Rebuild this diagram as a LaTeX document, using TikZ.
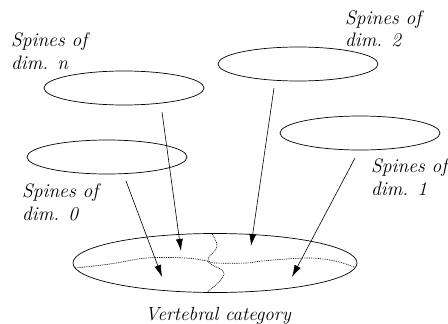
\documentclass[tikz,border=0pt]{standalone}
\usetikzlibrary{arrows.meta,shapes.geometric}
\begin{document}
\begin{tikzpicture}[x=1pt,y=-1pt,
  sp/.style={ellipse,draw,line width=0.7pt,inner sep=0pt,minimum width=160pt,minimum height=34pt},
  lbl/.style={anchor=base west,inner sep=0pt,font=\fontsize{19.5}{23}\selectfont\itshape},
  arr/.style={line width=0.6pt,-{Latex[length=12pt,width=7pt]}},
  dots/.style={line width=0.65pt,dash pattern=on 0.9pt off 0.9pt,black}]
\useasboundingbox (0,0) rectangle (448,324);
% ellipses
\node[sp] (en) at (124,88) {};
\node[sp] (e2) at (298,64) {};
\node[sp] (e1) at (360,133) {};
\node[sp] (e0) at (107,157) {};
\node[ellipse,draw,line width=0.7pt,inner sep=0pt,minimum width=284pt,minimum height=59pt] (vc) at (215,263) {};
% dotted borders inside
\draw[dots] plot[smooth,tension=0.6] coordinates {(75,268) (110,264) (147,258) (185,258) (207,261) (215,263) (247,263) (262,261) (307,258) (335,261) (354,267)};
\draw[dots] plot[smooth,tension=0.7] coordinates {(212,234) (217,247) (208,261) (224,274) (206,293)};
% arrows
\coordinate (sn) at (162,112); \coordinate (tn) at (181,251);
\coordinate (s2) at (274,88);  \coordinate (t2) at (251,246);
\coordinate (s1) at (355,158); \coordinate (t1) at (292,277);
\coordinate (s0) at (126,181); \coordinate (t0) at (162,277);
\draw[arr] (sn) -- (tn);
\draw[arr] (s2) -- (t2);
\draw[arr] (s1) -- (t1);
\draw[arr] (s0) -- (t0);
% labels
\node[lbl] (ln1) at (11,46) {Spines of};
\node[lbl] (ln2) at (11,69) {dim. n};
\node[lbl] (l21) at (345,24) {Spines of};
\node[lbl] (l22) at (345,46) {dim. 2};
\node[lbl] (l11) at (371,172) {Spines of};
\node[lbl] (l12) at (371,195) {dim. 1};
\node[lbl] (l01) at (22,197) {Spines of};
\node[lbl] (l02) at (22,220) {dim. 0};
\node[anchor=base,inner sep=0pt,font=\fontsize{19}{22}\selectfont\itshape] (lv) at (218,320) {Vertebral category};
\end{tikzpicture}
\end{document}
